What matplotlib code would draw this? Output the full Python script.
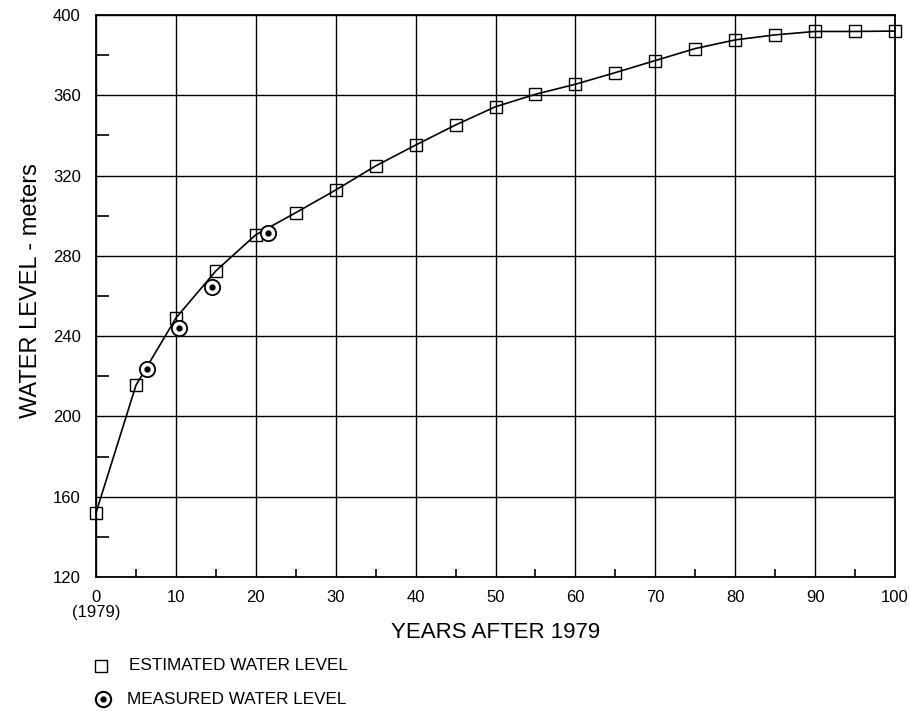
import matplotlib
matplotlib.use("Agg")
import matplotlib.pyplot as plt
from matplotlib.ticker import MultipleLocator

plt.rcParams['font.family'] = ['Liberation Sans', 'DejaVu Sans']

est_years = [0, 5, 10, 15, 20, 25, 30, 35, 40, 45, 50, 55, 60, 65, 70, 75, 80, 85, 90, 95, 100]
est_level = [152, 215.5, 249, 272.5, 290.5, 301.5, 312.8, 324.8, 335.2, 345.2, 354.3, 360.5,
             365.5, 371.3, 377.3, 383.3, 387.6, 390.1, 391.8, 391.8, 392]
meas_years = [6.4, 10.4, 14.5, 21.5]
meas_level = [223.6, 244.2, 264.6, 291.4]

x_ticks = [0, 10, 20, 30, 40, 50, 60, 70, 80, 90, 100]
x_ticklabels = ["0\n(1979)", "10", "20", "30", "40", "50", "60", "70", "80", "90", "100"]
y_ticks = [120, 160, 200, 240, 280, 320, 360, 400]

fig = plt.figure(figsize=(9.09, 7.11), dpi=100)
ax = fig.add_axes([96/909, (711-577)/711, (895-96)/909, (577-15)/711])

ax.plot(est_years, est_level, color='black', lw=1.2, zorder=3, clip_on=False,
        marker='s', markersize=9, markerfacecolor='none', markeredgecolor='black', markeredgewidth=1.0)
ax.plot(meas_years, meas_level, linestyle='none', marker='o', markersize=11,
        markerfacecolor='white', markeredgecolor='black', markeredgewidth=1.3, zorder=4)
ax.plot(meas_years, meas_level, linestyle='none', marker='o', markersize=3.5,
        color='black', zorder=5)

ax.set_xlim(0, 100)
ax.set_ylim(120, 400)
ax.set_xticks(x_ticks)
ax.set_xticklabels(x_ticklabels, linespacing=1.0)
ax.set_yticks(y_ticks)
ax.xaxis.set_minor_locator(MultipleLocator(5))
ax.yaxis.set_minor_locator(MultipleLocator(20))
ax.tick_params(which='major', length=0, pad=9, labelsize=12)
ax.tick_params(axis='y', which='major', pad=11)
ax.tick_params(axis='x', which='minor', direction='in', length=6, width=1.2)
ax.tick_params(axis='y', which='minor', direction='in', length=9, width=1.2)
ax.grid(True, which='major', color='black', lw=1.0)
for s in ax.spines.values():
    s.set_linewidth(1.3)

ax.set_xlabel("YEARS AFTER 1979", fontsize=16, labelpad=2)
ax.set_ylabel("WATER LEVEL - meters", fontsize=17)
ax.yaxis.set_label_coords(-0.0676, 0.51)

# legend below
lax = fig.add_axes([0, 0, 1, 1], facecolor='none')
lax.set_xlim(0, 909)
lax.set_ylim(711, 0)
lax.axis('off')
lax.plot([101], [666], marker='s', markersize=9, markerfacecolor='none', markeredgecolor='black', markeredgewidth=1.0)
lax.plot([103], [699], marker='o', markersize=11, markerfacecolor='white', markeredgecolor='black', markeredgewidth=1.5)
lax.plot([103], [699], marker='o', markersize=3.5, color='black')
lax.text(129, 666, "ESTIMATED WATER LEVEL", fontsize=12.3, va='center', ha='left')
lax.text(127, 699, "MEASURED WATER LEVEL", fontsize=12.3, va='center', ha='left')

fig.savefig("out.png", dpi=100)
